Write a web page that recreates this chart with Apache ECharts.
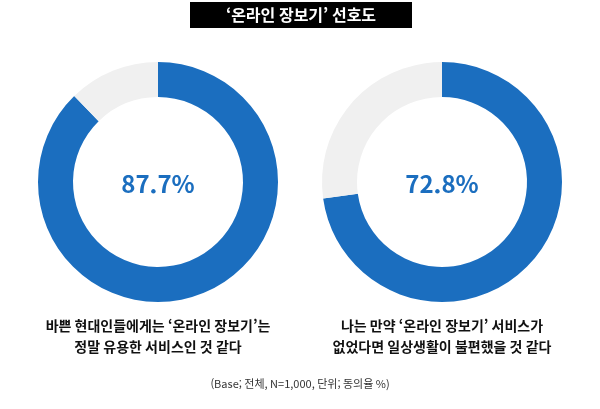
<!DOCTYPE html>
<html lang="ko">
<head>
<meta charset="UTF-8">
<title>'온라인 장보기' 선호도</title>
<script src="https://cdn.jsdelivr.net/npm/echarts@6/dist/echarts.min.js"></script>
<style>
  body { margin: 0; background: #fff; }
  #chart { width: 600px; height: 409px; }
</style>
</head>
<body>
<div id="chart"></div>
<script>
var titleText = "‘온라인 장보기’ 선호도";
var questions = ["바쁜 현대인들에게는 ‘온라인 장보기’는\n정말 유용한 서비스인 것 같다", "나는 만약 ‘온라인 장보기’ 서비스가\n없었다면 일상생활이 불편했을 것 같다"];
var agreeValues = [87.7, 72.8];
var centersX = [158, 442];
var note = "(Base; 전체, N=1,000, 단위; 동의율 %)";

var font = '"Noto Sans CJK KR", sans-serif';
var chart = echarts.init(document.getElementById('chart'));

var series = agreeValues.map(function (v, i) {
  return {
    type: 'pie',
    center: [centersX[i], 182],
    radius: [85, 120],
    startAngle: 90,
    silent: true,
    label: { show: false },
    data: [
      { value: v, itemStyle: { color: '#1b6ebf' } },
      { value: +(100 - v).toFixed(1), itemStyle: { color: '#f0f0f0' } }
    ]
  };
});

var graphics = [
  { type: 'rect', shape: { x: 190, y: 2, width: 222, height: 26 }, style: { fill: '#000' } },
  { type: 'text', x: 301, y: 15, style: { text: titleText, fill: '#fff', font: 'bold 16px ' + font, textAlign: 'center', textVerticalAlign: 'middle' } },
  { type: 'text', x: 300, y: 384, style: { text: note, fill: '#333', font: '11px ' + font, textAlign: 'center', textVerticalAlign: 'middle' } }
];
agreeValues.forEach(function (v, i) {
  graphics.push({ type: 'text', x: centersX[i], y: 184, style: { text: v.toFixed(1) + '%', fill: '#1b6ebf', font: 'bold 24px ' + font, textAlign: 'center', textVerticalAlign: 'middle' } });
  graphics.push({ type: 'text', x: centersX[i], y: 336, style: { text: questions[i], fill: '#111', font: 'bold 14px ' + font, lineHeight: 21, textAlign: 'center', textVerticalAlign: 'middle' } });
});

chart.setOption({
  animation: false,
  series: series,
  graphic: graphics
});
</script>
</body>
</html>
